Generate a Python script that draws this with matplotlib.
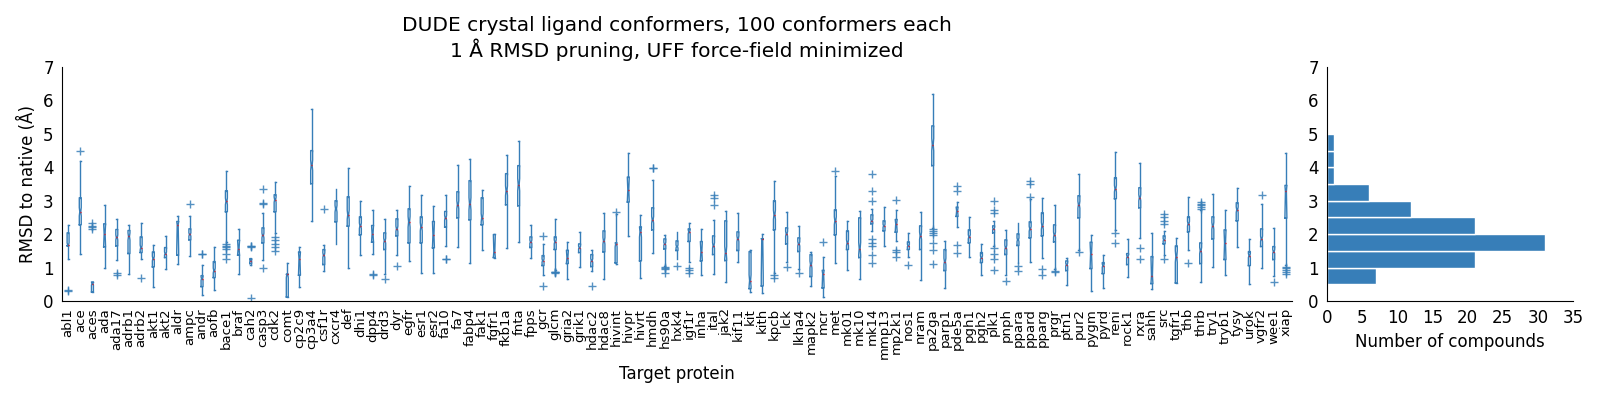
import numpy as np
import matplotlib
matplotlib.use("Agg")
import matplotlib.pyplot as plt

targets = ["abl1", "ace", "aces", "ada", "ada17", "adrb1", "adrb2", "akt1", "akt2", "aldr",
           "ampc", "andr", "aofb", "bace1", "braf", "cah2", "casp3", "cdk2", "comt", "cp2c9",
           "cp3a4", "csf1r", "cxcr4", "def", "dhi1", "dpp4", "drd3", "dyr", "egfr", "esr1",
           "esr2", "fa10", "fa7", "fabp4", "fak1", "fgfr1", "fkb1a", "fnta", "fpps", "gcr",
           "glcm", "gria2", "grik1", "hdac2", "hdac8", "hivint", "hivpr", "hivrt", "hmdh", "hs90a",
           "hxk4", "igf1r", "inha", "ital", "jak2", "kif11", "kit", "kith", "kpcb", "lck",
           "lkha4", "mapk2", "mcr", "met", "mk01", "mk10", "mk14", "mmp13", "mp2k1", "nos1",
           "nram", "pa2ga", "parp1", "pde5a", "pgh1", "pgh2", "plk1", "pnph", "ppara", "ppard",
           "pparg", "prgr", "ptn1", "pur2", "pygm", "pyrd", "reni", "rock1", "rxra", "sahh",
           "src", "tgfr1", "thb", "thrb", "try1", "tryb1", "tysy", "urok", "vgfr2", "wee1", "xiap"]

whislo = [1.27, 1.42, 0.27, 1.00, 1.22, 0.82, 1.25, 0.42, 0.97, 1.12,
          1.35, 0.17, 0.32, 1.76, 0.82, 1.07, 1.22, 2.04, 0.12, 0.42,
          2.39, 0.90, 1.70, 1.00, 1.39, 1.42, 0.82, 1.39, 1.21, 0.85,
          0.85, 1.66, 1.63, 1.15, 1.54, 1.28, 1.60, 1.77, 1.30, 0.79,
          0.92, 0.67, 1.03, 0.90, 0.67, 1.10, 1.95, 0.70, 1.45, 1.05,
          1.27, 1.18, 0.77, 0.80, 0.58, 1.18, 0.27, 0.25, 0.85, 1.18,
          0.97, 0.45, 0.13, 1.15, 0.94, 0.65, 2.10, 1.66, 1.80, 1.33,
          0.64, 2.18, 0.40, 2.22, 1.33, 0.79, 1.66, 0.79, 1.15, 1.17,
          1.30, 0.95, 0.49, 1.54, 0.31, 0.40, 2.13, 0.73, 1.89, 0.37,
          1.39, 0.54, 1.53, 0.57, 1.03, 0.79, 1.63, 0.52, 1.00, 0.75, 1.08]
q1 = [1.65, 2.28, 0.27, 1.62, 1.65, 1.42, 1.45, 1.02, 1.30, 1.37,
      1.83, 0.43, 0.70, 2.67, 1.37, 1.12, 1.74, 2.67, 0.12, 0.77,
      3.51, 1.09, 2.37, 2.24, 1.98, 1.76, 1.54, 1.95, 1.74, 1.74,
      1.59, 2.21, 2.49, 2.43, 2.28, 1.30, 2.88, 2.85, 1.60, 1.06,
      1.54, 1.12, 1.45, 1.03, 1.47, 1.14, 2.96, 1.20, 2.13, 1.56,
      1.51, 1.78, 1.20, 1.39, 1.21, 1.51, 0.37, 0.45, 2.13, 1.71,
      1.48, 0.73, 0.39, 1.98, 1.54, 1.30, 2.31, 2.10, 2.06, 1.54,
      1.54, 4.05, 0.91, 2.53, 1.74, 1.15, 2.04, 1.39, 1.66, 1.89,
      1.95, 1.77, 0.91, 2.49, 0.97, 0.82, 3.06, 1.09, 2.79, 0.52,
      1.71, 0.54, 2.07, 1.12, 1.86, 1.24, 2.40, 1.06, 1.63, 1.24, 2.48]
med = [1.68, 2.67, 0.52, 2.01, 1.90, 1.93, 1.60, 1.27, 1.42, 2.28,
       1.99, 0.67, 0.91, 2.98, 1.57, 1.20, 1.96, 3.03, 0.80, 1.27,
       4.06, 1.37, 2.76, 2.58, 2.25, 2.01, 1.80, 2.16, 2.37, 2.22,
       1.98, 2.49, 2.88, 2.91, 2.49, 1.48, 3.30, 3.48, 1.77, 1.21,
       1.77, 1.30, 1.60, 1.21, 1.80, 1.71, 3.33, 2.07, 2.43, 1.71,
       1.63, 2.07, 1.48, 1.66, 1.45, 1.86, 0.61, 1.86, 2.58, 2.01,
       1.71, 1.09, 0.82, 2.40, 1.74, 1.57, 2.40, 2.25, 2.31, 1.66,
       1.95, 4.68, 1.18, 2.70, 1.92, 1.30, 2.16, 1.60, 1.83, 2.16,
       2.25, 1.98, 1.09, 2.88, 1.42, 1.06, 3.36, 1.33, 3.09, 0.76,
       1.83, 1.33, 2.31, 1.51, 2.25, 1.74, 2.73, 1.36, 1.86, 1.48, 3.28]
q3 = [2.04, 3.09, 0.57, 2.31, 2.14, 2.11, 1.92, 1.47, 1.60, 2.38,
      2.16, 0.76, 1.18, 3.30, 1.82, 1.27, 2.19, 3.18, 0.80, 1.47,
      4.50, 1.54, 3.00, 3.12, 2.52, 2.26, 2.04, 2.46, 2.76, 2.52,
      2.38, 2.68, 3.27, 3.60, 3.09, 1.99, 3.81, 4.05, 1.92, 1.36,
      1.92, 1.52, 1.71, 1.39, 2.10, 1.74, 3.71, 2.22, 2.79, 1.86,
      1.80, 2.16, 1.78, 1.95, 2.40, 2.07, 1.48, 1.86, 3.00, 2.19,
      1.89, 1.39, 0.92, 2.73, 2.10, 2.49, 2.58, 2.40, 2.44, 1.77,
      2.25, 5.24, 1.54, 2.81, 2.13, 1.45, 2.25, 1.83, 2.01, 2.37,
      2.64, 2.28, 1.20, 3.15, 1.76, 1.15, 3.69, 1.42, 3.39, 1.33,
      1.95, 1.65, 2.52, 1.74, 2.52, 2.13, 2.94, 1.48, 2.16, 1.63, 3.46]
whishi = [2.28, 4.20, 0.57, 2.88, 2.46, 2.28, 2.34, 1.68, 1.95, 2.55,
          2.55, 1.09, 1.63, 3.89, 2.14, 1.27, 2.64, 3.56, 1.15, 1.63,
          5.73, 1.69, 3.36, 3.99, 3.00, 2.73, 2.46, 2.73, 3.45, 3.18,
          2.85, 3.18, 4.08, 4.26, 3.33, 2.01, 4.38, 4.80, 2.28, 1.71,
          2.46, 1.77, 2.07, 1.54, 2.64, 2.60, 4.44, 2.58, 3.63, 1.98,
          2.07, 2.34, 2.16, 2.43, 2.70, 2.64, 1.54, 2.01, 3.60, 2.67,
          2.25, 1.47, 1.33, 3.75, 2.40, 2.69, 2.75, 2.82, 2.73, 2.04,
          2.67, 6.20, 1.80, 2.97, 2.52, 1.71, 2.40, 2.13, 2.34, 3.06,
          3.09, 2.88, 1.30, 3.81, 1.98, 1.39, 4.47, 1.86, 4.14, 2.04,
          2.09, 1.89, 3.12, 2.71, 3.21, 2.73, 3.39, 1.86, 2.91, 2.19, 4.44]
fliers = {
    "abl1": [0.32, 0.30], "ace": [4.49], "aces": [2.32, 2.25, 2.20, 2.15],
    "ada17": [0.85, 0.78], "adrb2": [0.69], "ampc": [2.90], "andr": [1.41, 1.40],
    "bace1": [1.70, 1.65, 1.61, 1.57, 1.42, 1.27], "cah2": [1.66, 1.64, 1.62, 0.09],
    "casp3": [3.36, 2.93, 2.90, 1.00], "cdk2": [1.91, 1.83, 1.72, 1.62, 1.49],
    "csf1r": [2.76], "dpp4": [0.82, 0.77], "drd3": [0.65], "dyr": [1.04],
    "fa10": [1.27, 1.25], "gcr": [1.95, 0.44], "glcm": [0.88, 0.87, 0.86, 0.85],
    "hdac2": [0.44], "hivint": [2.66], "hmdh": [3.99, 3.97],
    "hs90a": [1.01, 0.98, 0.95, 0.85], "hxk4": [1.04], "igf1r": [1.00, 0.92, 0.85],
    "ital": [3.16, 3.09, 2.86], "kpcb": [0.79, 0.69], "lck": [1.03], "lkha4": [0.85],
    "mcr": [1.76], "met": [3.90], "mk14": [3.80, 3.30, 3.00, 1.86, 1.74, 1.64, 1.38, 1.14],
    "mp2k1": [3.03, 1.54, 1.47, 1.32], "nos1": [1.09],
    "pa2ga": [2.14, 2.08, 2.02, 1.96, 1.74, 1.54, 1.12], "pde5a": [3.45, 3.30, 1.68, 1.45],
    "plk1": [3.00, 2.73, 2.64, 1.60, 1.42, 1.27, 0.92], "pnph": [0.60],
    "ppara": [1.06, 0.91], "ppard": [3.60, 3.50, 3.10], "pparg": [0.97, 0.79],
    "prgr": [0.90, 0.88], "pur2": [1.47], "reni": [2.04, 1.74], "rxra": [1.60, 1.26],
    "src": [2.60, 2.51, 2.38, 2.31, 1.27], "thb": [1.15],
    "thrb": [2.96, 2.91, 2.86, 2.81, 2.76], "vgfr2": [3.16], "wee1": [0.58],
    "xiap": [1.02, 0.98, 0.93, 0.86, 0.80],
}
# targets with few conformers left after pruning -> notches fill the whole box
few_conformers = ["ada", "aldr", "braf", "cp2c9", "dpp4", "esr2", "fgfr1", "gria2", "hivpr",
                  "inha", "kith", "mcr", "mp2k1", "pde5a", "pygm", "sahh", "tryb1", "xiap"]

# histogram of per-target median RMSD
hist_edges = [0.5, 1.0, 1.5, 2.0, 2.5, 3.0, 3.5, 4.0, 4.5, 5.0]
hist_counts = [7, 21, 31, 21, 12, 6, 1, 1, 1]

blue = "#377eb8"

stats = []
for i, t in enumerate(targets):
    n = 4 if t in few_conformers else 100
    iqr = q3[i] - q1[i]
    stats.append(dict(label=t, med=med[i], q1=q1[i], q3=q3[i],
                      whislo=whislo[i], whishi=whishi[i],
                      fliers=fliers.get(t, []),
                      cilo=max(q1[i], med[i] - 1.57 * iqr / np.sqrt(n)),
                      cihi=min(q3[i], med[i] + 1.57 * iqr / np.sqrt(n))))

fig = plt.figure(figsize=(16, 4), dpi=100)
ax = fig.add_axes([0.03875, 0.2475, 0.76875, 0.585])
pos = np.arange(1, len(targets) + 1)
ax.bxp(stats, positions=pos, widths=0.16, shownotches=True,
       boxprops=dict(color=blue, linewidth=1.0),
       whiskerprops=dict(color=blue, linewidth=1.0, linestyle="-"),
       capprops=dict(color=blue, linewidth=1.0),
       medianprops=dict(color="red", linewidth=1.0),
       flierprops=dict(marker="+", markeredgecolor=blue, markersize=6,
                       markeredgewidth=1.0, alpha=0.85, linestyle="none"))
ax.set_xlim(0.5, len(targets) + 0.5)
ax.set_ylim(0, 7)
ax.set_xticks(pos)
ax.set_xticklabels(targets, rotation=90, fontsize=9.5)
ax.set_yticks(range(8))
ax.tick_params(axis="y", labelsize=12, length=0, pad=6)
ax.tick_params(axis="x", length=0, pad=5)
ax.set_ylabel("RMSD to native (Å)", fontsize=12)
ax.set_xlabel("Target protein", fontsize=12)
ax.set_title("DUDE crystal ligand conformers, 100 conformers each\n"
             "1 Å RMSD pruning, UFF force-field minimized", fontsize=14.5, pad=7)
for s in ["top", "right"]:
    ax.spines[s].set_visible(False)

ax2 = fig.add_axes([0.8294, 0.2475, 0.15375, 0.585])
ax2.barh(hist_edges[:-1], hist_counts, height=0.5, align="edge",
         color=blue, edgecolor="white", linewidth=1.0)
ax2.set_ylim(0, 7)
ax2.set_xlim(0, 35)
ax2.set_yticks(range(8))
ax2.set_xticks(range(0, 36, 5))
ax2.tick_params(labelsize=12, length=0, pad=6)
ax2.set_xlabel("Number of compounds", fontsize=12)
for s in ["top", "right"]:
    ax2.spines[s].set_visible(False)

fig.savefig("out.png", dpi=100)
